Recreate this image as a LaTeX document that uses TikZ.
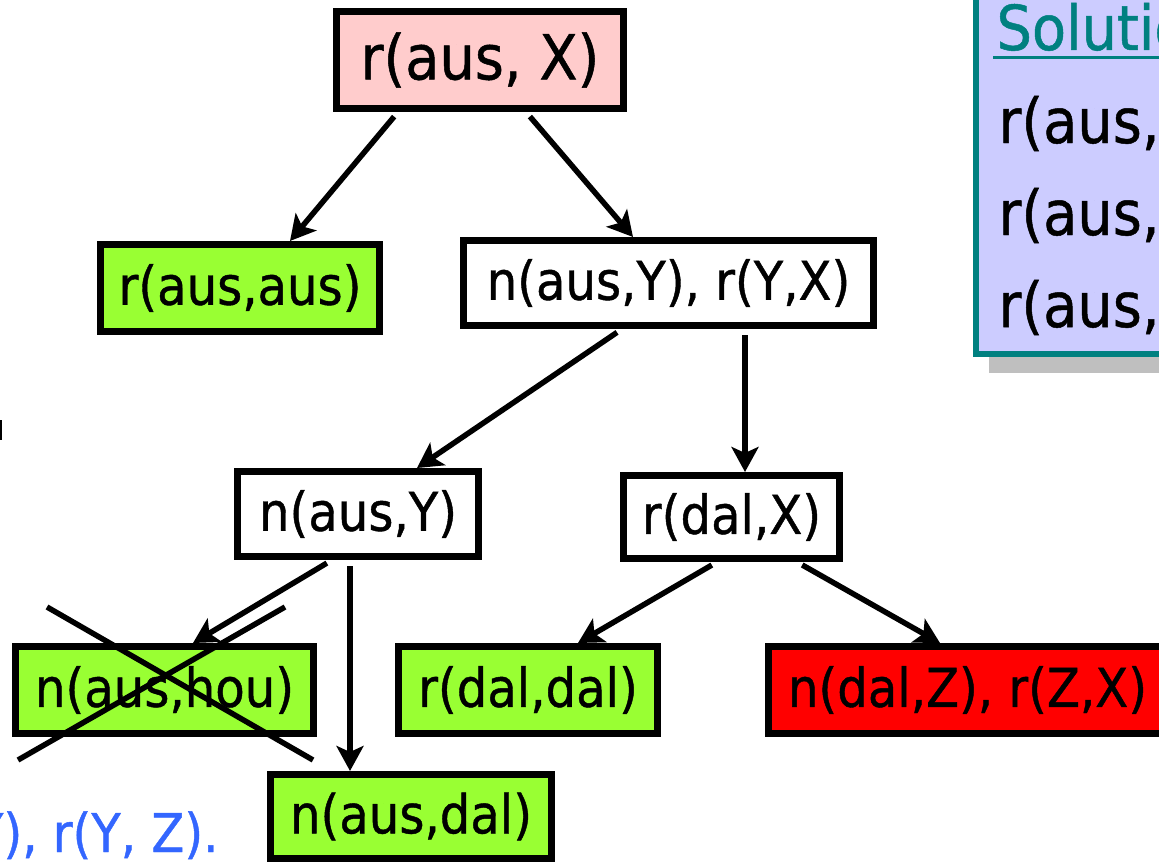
\documentclass[tikz,border=0pt]{standalone}
\usepackage{fontspec}
\setmainfont[FakeStretch=0.9,FakeBold=0.8]{DejaVu Sans}
\usetikzlibrary{arrows.meta}

\definecolor{goalpink}{HTML}{FFCCCC}
\definecolor{leafgreen}{HTML}{99FF33}
\definecolor{solblue}{HTML}{CCCCFF}
\definecolor{solteal}{HTML}{008080}
\definecolor{ruleblue}{HTML}{3366FF}

\begin{document}
\begin{tikzpicture}[
  x=1pt, y=-1pt,
  every node/.style={rectangle,draw,line width=7pt,inner sep=0pt,
    font=\fontsize{53.5}{60}\selectfont},
  big/.style={font=\fontsize{62}{70}\selectfont},
  leaf/.style={fill=leafgreen},
  txt/.style={draw=none,inner sep=0pt},
  link/.style={shorten <=6pt},
  line width=5.5pt, ->, >={Stealth[length=25pt,width=27pt,inset=6pt]}
]
  \useasboundingbox (0,0) rectangle (1159,864);
  \clip (0,0) rectangle (1159,864);

  % solutions panel
  \fill[gray!50] (989,-20) rectangle (1300,373);
  \draw[solteal,fill=solblue,line width=6pt] (976,-20) rectangle (1300,354);
  \node[txt,big,solteal,anchor=base west] (soltitle) at (993,50) {Solutio};
  \draw[-,solteal,line width=3pt] (993,58) -- (1170,58);
  \node[txt,big,anchor=base west] (sol1) at (995,143) {r(aus,};
  \node[txt,big,anchor=base west] (sol2) at (995,235) {r(aus,};
  \node[txt,big,anchor=base west] (sol3) at (995,327) {r(aus,};

  \node[txt,ruleblue,anchor=base east] (rulebody) at (222,852) {Y), r(Y, Z).};
  \draw[-,line width=3pt] (0,420) -- (0,440);

  % search tree
  \node[big,fill=goalpink,minimum width=287pt,minimum height=97pt] (root) at (480,60) {r(aus, X)};
  \node[leaf,minimum width=279pt,minimum height=87pt] (raa) at (240,288) {r(aus,aus)};
  \node[minimum width=410pt,minimum height=85pt] (nrx) at (668.5,283) {n(aus,Y), r(Y,X)};
  \node[minimum width=241pt,minimum height=85pt] (nay) at (358,514) {n(aus,Y)};
  \node[minimum width=216pt,minimum height=83pt] (rdx) at (731.5,517) {r(dal,X)};
  \node[leaf,minimum width=298pt,minimum height=87pt] (nah) at (164.5,690) {n(aus,hou)};
  \node[leaf,minimum width=259pt,minimum height=87pt] (rdd) at (528,690) {r(dal,dal)};
  \node[fill=red,minimum width=398pt,minimum height=87pt] (ndz) at (967.5,690) {n(dal,Z), r(Z,X)};
  \node[leaf,minimum width=281pt,minimum height=84pt] (nad) at (411,816.5) {n(aus,dal)};

  \draw[link] ([xshift=-82pt]root.south) -- ([xshift=50pt]raa.north);
  \draw[link] ([xshift=46pt]root.south) -- ([xshift=-35.5pt]nrx.north);
  \draw[link] ([xshift=-46.5pt]nrx.south) -- ([xshift=59pt]nay.north);
  \draw[link] ([xshift=76.5pt]nrx.south) -- ([xshift=13.5pt]rdx.north);
  \draw[link] ([xshift=-26pt]nay.south) -- ([xshift=28.5pt]nah.north);
  \draw[link] ([xshift=-8pt]nay.south) -- ([xshift=-61pt]nad.north);
  \draw[link] ([xshift=-14.5pt]rdx.south) -- ([xshift=50pt]rdd.north);
  \draw[link] ([xshift=65.5pt]rdx.south) -- ([xshift=-27.5pt]ndz.north);

  % failed branch
  \draw[-] (47,607) -- (313,760);
  \draw[-] (18,760) -- (285,607);
\end{tikzpicture}
\end{document}
